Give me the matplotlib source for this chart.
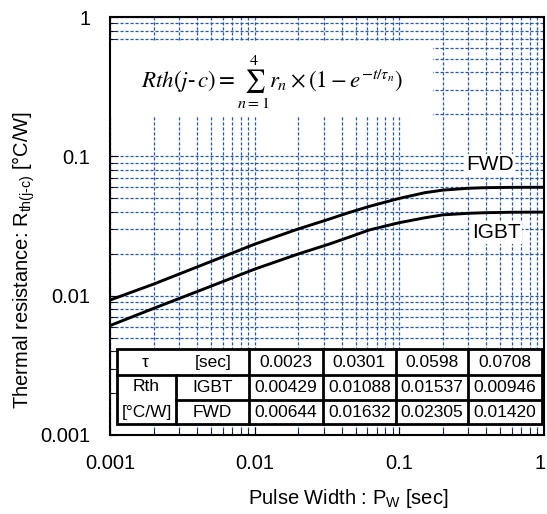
import numpy as np
import matplotlib
matplotlib.use('Agg')
import matplotlib.pyplot as plt
import matplotlib.transforms as mtransforms
from matplotlib.patches import Rectangle

matplotlib.rcParams['font.family'] = 'Liberation Sans'
matplotlib.rcParams['mathtext.fontset'] = 'custom'
matplotlib.rcParams['mathtext.rm'] = 'Liberation Sans'
matplotlib.rcParams['mathtext.it'] = 'Liberation Sans:italic'


# Curve data

t_pw = [0.001, 0.002, 0.005, 0.01, 0.02, 0.033, 0.045, 0.062, 0.1, 0.15, 0.2, 0.3, 0.4, 0.6, 1.0]
rth_fwd = [0.0093, 0.0121, 0.0176, 0.0234, 0.0301, 0.0355, 0.0395, 0.0437, 0.0499, 0.0548, 0.0572, 0.0590, 0.0596, 0.0599, 0.0600]
rth_igbt = [0.0061, 0.0081, 0.0117, 0.0155, 0.0199, 0.0235, 0.0263, 0.0296, 0.0334, 0.0362, 0.0380, 0.0390, 0.0394, 0.0397, 0.0398]

# Table contents

tau_vals = ['0.0023', '0.0301', '0.0598', '0.0708']
r_igbt = ['0.00429', '0.01088', '0.01537', '0.00946']
r_fwd = ['0.00644', '0.01632', '0.02305', '0.01420']


fig = plt.figure(figsize=(5.47, 5.14), dpi=100)
ax = fig.add_axes([0.2011, 0.1537, 0.793, 0.8132])
ax.set_xscale('log')
ax.set_yscale('log')
ax.set_xlim(0.001, 1)
ax.set_ylim(0.001, 1)
ax.set_axisbelow(True)

for s in ax.spines.values():
    s.set_linewidth(1.5)
    s.set_color('black')

ax.grid(which='both', color='#2457b8', linestyle=(0, (2.5, 1.5)), linewidth=0.9)
ax.tick_params(which='both', direction='in', labelsize=14.5)
ax.tick_params(which='major', length=6)
ax.tick_params(axis='x', which='major', pad=14)
ax.tick_params(axis='y', which='major', pad=14)
ax.tick_params(which='minor', length=4, labelleft=False, labelbottom=False)
ax.set_xticks([0.001, 0.01, 0.1, 1])
ax.set_xticklabels(['0.001', '0.01', '0.1', '1'])
ax.set_yticks([0.001, 0.01, 0.1, 1])
ax.set_yticklabels(['0.001', '0.01', '0.1', '1'])

# nudge the last x label inside the figure
lbl = ax.get_xticklabels()[-1]
lbl.set_transform(lbl.get_transform() + mtransforms.ScaledTranslation(-4 / 100, 0, fig.dpi_scale_trans))

ax.plot(t_pw, rth_fwd, 'k', linewidth=2.1, zorder=2)
ax.plot(t_pw, rth_igbt, 'k', linewidth=2.1, zorder=2)

ax.set_xlabel('Pulse Width : P$_{\\mathrm{W}}$ [sec]', fontsize=14.5)
ax.set_ylabel('Thermal resistance: R$_{\\mathrm{th(j\\text{-}c)}}$ [\u00b0C/W]', fontsize=14.5)
ax.xaxis.set_label_coords(0.55, -0.125)
ax.yaxis.set_label_coords(-0.168, 0.42)

# Formula box
ax.add_patch(Rectangle((0.0, 0.762), 0.745, 0.18, transform=ax.transAxes,
                       facecolor='white', edgecolor='none', zorder=1))
ax.text(0.375, 0.845, r'$Rth(j\text{-}\,c) = \sum_{n=1}^{4} r_n \times \left(1 - e^{-t/\tau_n}\right)$',
        transform=ax.transAxes, ha='center', va='center', fontsize=16.5,
        math_fontfamily='stix', zorder=3)

# Curve labels
ax.text(0.876, 0.647, 'FWD', transform=ax.transAxes, ha='center', va='center',
        fontsize=15, zorder=3, bbox=dict(facecolor='white', edgecolor='none', pad=1))
ax.text(0.89, 0.484, 'IGBT', transform=ax.transAxes, ha='center', va='center',
        fontsize=15, zorder=3, bbox=dict(facecolor='white', edgecolor='none', pad=1))

# Table
xs = [0.0154, 0.153, 0.321, 0.491, 0.659, 0.826, 0.995]
ys = [0.2057, 0.1435, 0.0837, 0.0263]
ax.add_patch(Rectangle((xs[0], ys[3]), xs[-1] - xs[0], ys[0] - ys[3], transform=ax.transAxes,
                       facecolor='white', edgecolor='black', linewidth=2, zorder=4))
lw_t = 2
# horizontal lines
ax.plot([xs[0], xs[-1]], [ys[1], ys[1]], 'k', lw=lw_t, transform=ax.transAxes, zorder=5)
ax.plot([xs[1], xs[-1]], [ys[2], ys[2]], 'k', lw=lw_t, transform=ax.transAxes, zorder=5)
# vertical lines
ax.plot([xs[1], xs[1]], [ys[3], ys[1]], 'k', lw=lw_t, transform=ax.transAxes, zorder=5)
for x in xs[2:-1]:
    ax.plot([x, x], [ys[3], ys[0]], 'k', lw=lw_t, transform=ax.transAxes, zorder=5)

fs_t = 12.5
ax.text(0.08, (ys[0] + ys[1]) / 2, '\u03c4', transform=ax.transAxes, ha='center', va='center', fontsize=fs_t, zorder=6)
ax.text(0.237, (ys[0] + ys[1]) / 2, '[sec]', transform=ax.transAxes, ha='center', va='center', fontsize=fs_t, zorder=6)
ax.text((xs[0] + xs[1]) / 2, (ys[1] + ys[2]) / 2 + 0.003, 'Rth', transform=ax.transAxes, ha='center', va='center', fontsize=fs_t, zorder=6)
ax.text((xs[0] + xs[1]) / 2, (ys[2] + ys[3]) / 2, '[\u00b0C/W]', transform=ax.transAxes, ha='center', va='center', fontsize=fs_t, zorder=6)
ax.text((xs[1] + xs[2]) / 2, (ys[1] + ys[2]) / 2, 'IGBT', transform=ax.transAxes, ha='center', va='center', fontsize=fs_t, zorder=6)
ax.text((xs[1] + xs[2]) / 2, (ys[2] + ys[3]) / 2, 'FWD', transform=ax.transAxes, ha='center', va='center', fontsize=fs_t, zorder=6)
for i in range(4):
    xc = (xs[i + 2] + xs[i + 3]) / 2
    ax.text(xc, (ys[0] + ys[1]) / 2, tau_vals[i], transform=ax.transAxes, ha='center', va='center', fontsize=fs_t, zorder=6)
    ax.text(xc, (ys[1] + ys[2]) / 2, r_igbt[i], transform=ax.transAxes, ha='center', va='center', fontsize=fs_t, zorder=6)
    ax.text(xc, (ys[2] + ys[3]) / 2, r_fwd[i], transform=ax.transAxes, ha='center', va='center', fontsize=fs_t, zorder=6)

fig.savefig('out.png', dpi=100)
